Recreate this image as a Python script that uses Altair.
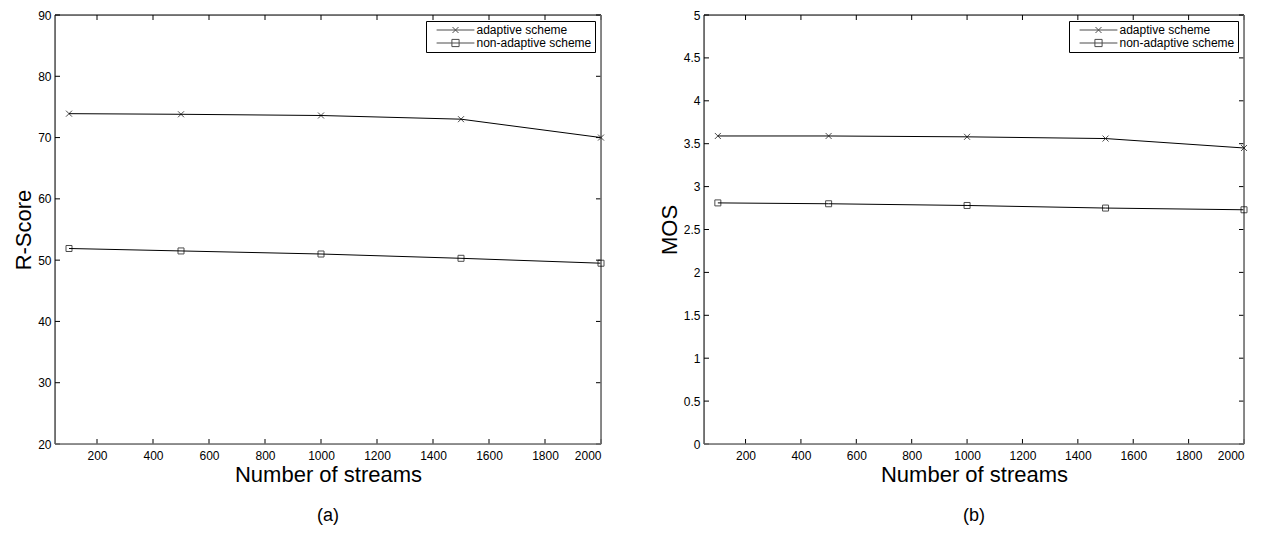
import altair as alt
import pandas as pd

streams = [100, 500, 1000, 1500, 2000]
r_adaptive = [73.9, 73.8, 73.6, 73.0, 70.0]
r_nonadaptive = [51.9, 51.5, 51.0, 50.3, 49.5]
mos_adaptive = [3.59, 3.59, 3.58, 3.56, 3.45]
mos_nonadaptive = [2.81, 2.80, 2.78, 2.75, 2.73]
series_names = ["adaptive scheme", "non-adaptive scheme"]
x_ticks = [200, 400, 600, 800, 1000, 1200, 1400, 1600, 1800, 2000]
r_ticks = [20, 30, 40, 50, 60, 70, 80, 90]
mos_ticks = [0, 0.5, 1, 1.5, 2, 2.5, 3, 3.5, 4, 4.5, 5]

FONT = "Liberation Sans"
X_MARK = "M-1,-1L1,1M-1,1L1,-1"
LEG_X = "M-6.3,0L6.3,0M-1,-1L1,1M-1,1L1,-1"
LEG_SQ = "M-6.3,0L6.3,0M-1.2,-1.2L1.2,-1.2L1.2,1.2L-1.2,1.2Z"
EDGE_GRAY = "#6e6e6e"


def panel(vals_a, vals_n, ydom, yticks, ytitle, caption, w, h, yfmt):
    df = pd.DataFrame({
        "streams": streams + streams,
        "value": vals_a + vals_n,
        "series": [series_names[0]] * len(streams) + [series_names[1]] * len(streams),
        "marker": [X_MARK] * len(streams) + ["square"] * len(streams),
    })
    xs = alt.Scale(domain=[50, 2000], nice=False, zero=False)
    ys = alt.Scale(domain=ydom, nice=False, zero=False)
    xaxis = alt.Axis(values=x_ticks, format="d", title="Number of streams",
                     labelFontSize=12, titleFontSize=22, labelPadding=6,
                     titlePadding=3, ticks=False, tickSize=0, domain=False, grid=False,
                     titleFontWeight="normal", labelFont=FONT, titleFont=FONT)
    yaxis = alt.Axis(values=yticks, format=yfmt, title=ytitle,
                     labelFontSize=12, titleFontSize=22, labelPadding=4,
                     titlePadding=2, ticks=False, tickSize=0, domain=False, grid=False,
                     titleFontWeight="normal", labelFont=FONT, titleFont=FONT)
    base = alt.Chart(df)
    lines = base.mark_line(color="black", strokeWidth=1).encode(
        x=alt.X("streams:Q", scale=xs, axis=xaxis),
        y=alt.Y("value:Q", scale=ys, axis=yaxis),
        detail="series:N",
    )
    pts = base.mark_point(filled=False, color="black", size=36, strokeWidth=1).encode(
        x=alt.X("streams:Q", scale=xs),
        y=alt.Y("value:Q", scale=ys),
        shape=alt.Shape("marker:N", scale=None),
    )
    leg = base.transform_filter("false").mark_point(
        filled=False, color="black", size=36, strokeWidth=1
    ).encode(
        x=alt.X("streams:Q", scale=xs),
        y=alt.Y("value:Q", scale=ys),
        shape=alt.Shape("series:N",
                        scale=alt.Scale(domain=series_names, range=[LEG_X, LEG_SQ]),
                        legend=alt.Legend(title=None, orient="top-right", offset=6,
                                          strokeColor="black", fillColor="white",
                                          padding=3, labelFont=FONT, labelFontSize=12,
                                          labelColor="black", symbolSize=36,
                                          symbolStrokeColor="black",
                                          symbolFillColor="transparent",
                                          symbolStrokeWidth=1, symbolOpacity=1,
                                          symbolOffset=20.5, labelOffset=15,
                                          rowPadding=1)),
    )
    xt = pd.DataFrame({"t": x_ticks})
    yt = pd.DataFrame({"t": yticks})
    xtb = alt.Chart(xt).mark_rule(color="black", strokeWidth=1).encode(
        x=alt.X("t:Q", scale=xs), y=alt.value(h), y2=alt.value(h - 5))
    xtt = alt.Chart(xt).mark_rule(color="black", strokeWidth=1).encode(
        x=alt.X("t:Q", scale=xs), y=alt.value(0), y2=alt.value(5))
    ytl = alt.Chart(yt).mark_rule(color="black", strokeWidth=1).encode(
        y=alt.Y("t:Q", scale=ys), x=alt.value(0), x2=alt.value(5))
    ytr = alt.Chart(yt).mark_rule(color="black", strokeWidth=1).encode(
        y=alt.Y("t:Q", scale=ys), x=alt.value(w - 5), x2=alt.value(w))
    frame_src = pd.DataFrame({"k": [0]})
    f_top = alt.Chart(frame_src).mark_rule(color="black", strokeWidth=1).encode(
        x=alt.value(0), x2=alt.value(w), y=alt.value(0))
    f_left = alt.Chart(frame_src).mark_rule(color="black", strokeWidth=1).encode(
        y=alt.value(0), y2=alt.value(h), x=alt.value(0))
    f_bot = alt.Chart(frame_src).mark_rule(color=EDGE_GRAY, strokeWidth=1.6).encode(
        x=alt.value(0), x2=alt.value(w), y=alt.value(h))
    f_right = alt.Chart(frame_src).mark_rule(color=EDGE_GRAY, strokeWidth=1.6).encode(
        y=alt.value(0), y2=alt.value(h), x=alt.value(w))
    return alt.layer(lines, xtb, xtt, ytl, ytr, f_top, f_left, f_bot, f_right,
                     pts, leg).properties(
        width=w, height=h,
        title=alt.TitleParams(text=caption, orient="bottom", fontSize=18, font=FONT,
                              fontWeight="normal", offset=22, anchor="middle",
                              color="black"),
    )


left = panel(r_adaptive, r_nonadaptive, [20, 90], r_ticks, "R-Score", "(a)", 546, 429, "d")
right = panel(mos_adaptive, mos_nonadaptive, [0, 5], mos_ticks, "MOS", "(b)", 540, 429, "~g")

chart = alt.hconcat(left, right, spacing=50).resolve_scale(
    shape="independent", x="independent", y="independent"
).resolve_legend(shape="independent").configure_axis(
    labelFont=FONT, titleFont=FONT, labelColor="black", titleColor="black",
    titleFontWeight="normal",
).configure_view(stroke=None).configure(
    background="white", padding={"left": 4, "top": 0, "right": 0, "bottom": 0}
)

chart.save("out.html", embed_options={"renderer": "svg", "actions": False})
